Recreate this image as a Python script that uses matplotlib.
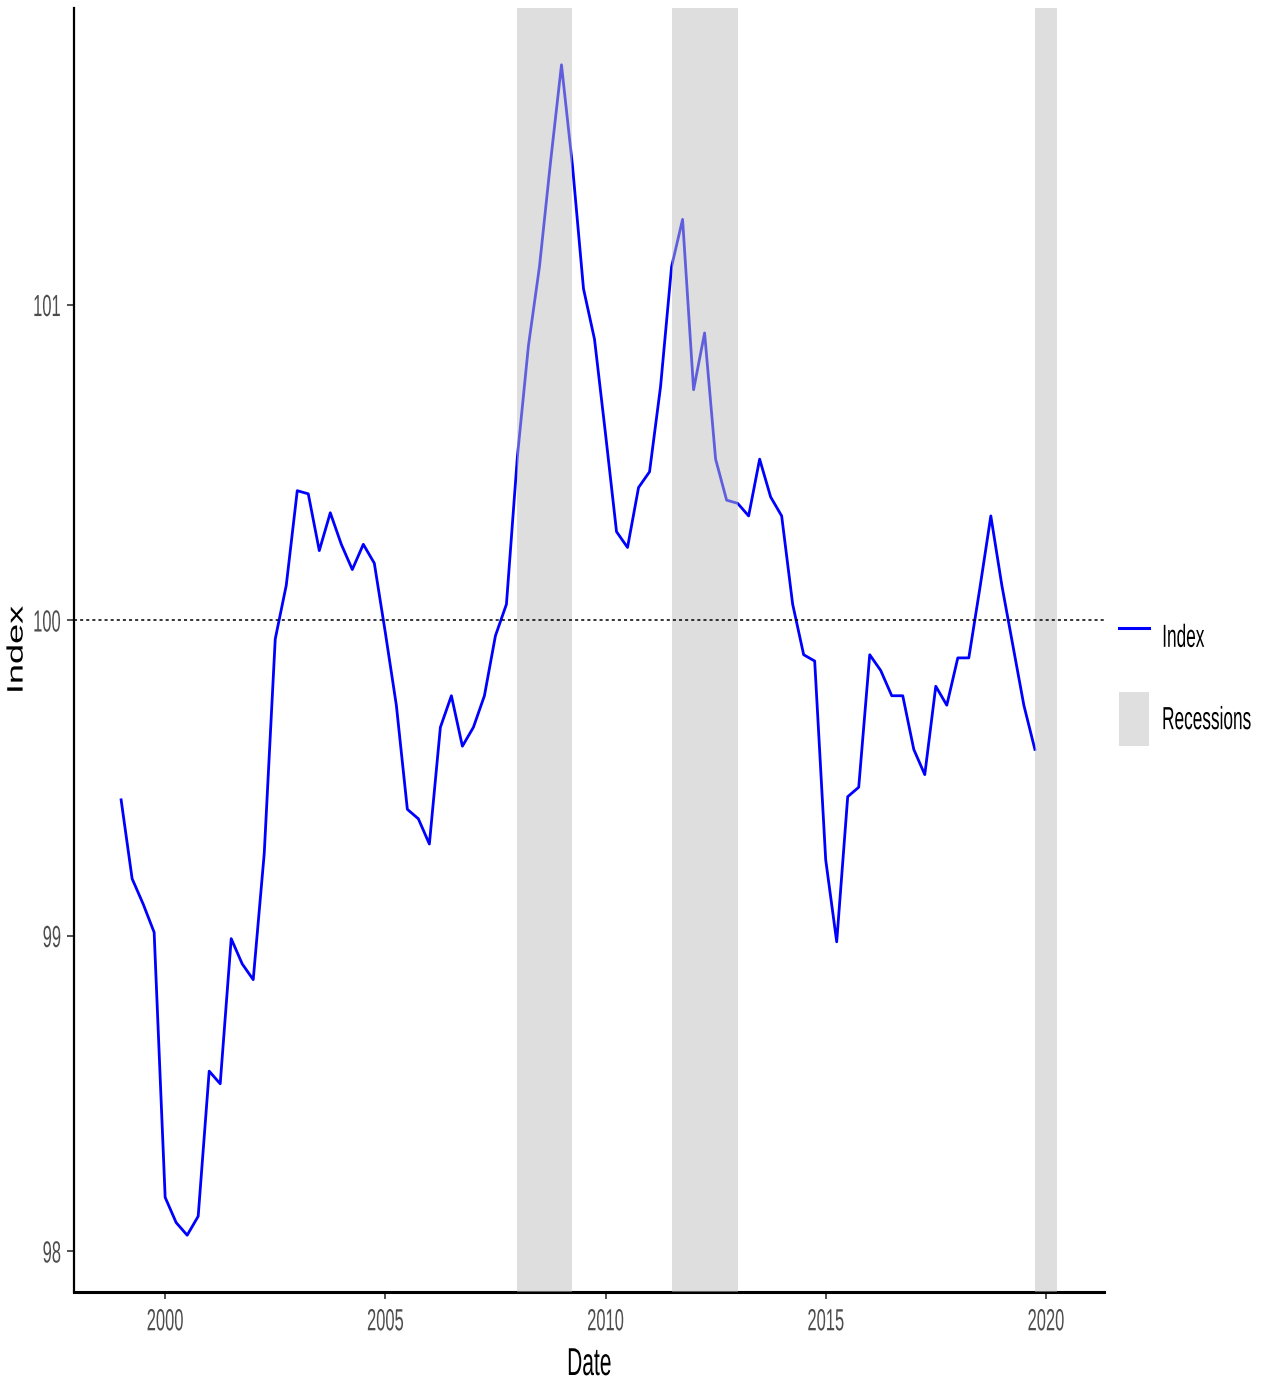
import matplotlib
matplotlib.use("Agg")
import matplotlib.pyplot as plt
from matplotlib.lines import Line2D
from matplotlib.patches import Patch
from matplotlib.patheffects import AbstractPathEffect
from matplotlib.transforms import Affine2D, Bbox

# quarterly index, 1999 Q1 .. 2019 Q4
start_year = 1999
index_vals = [
    99.43, 99.18, 99.10, 99.01,
    98.17, 98.09, 98.05, 98.11,
    98.57, 98.53, 98.99, 98.91,
    98.86, 99.26, 99.94, 100.11,
    100.41, 100.40, 100.22, 100.34,
    100.24, 100.16, 100.24, 100.18,
    99.96, 99.73, 99.40, 99.37,
    99.29, 99.66, 99.76, 99.60,
    99.66, 99.76, 99.95, 100.05,
    100.52, 100.87, 101.12, 101.45,
    101.76, 101.44, 101.05, 100.89,
    100.59, 100.28, 100.23, 100.42,
    100.47, 100.74, 101.12, 101.27,
    100.73, 100.91, 100.51, 100.38,
    100.37, 100.33, 100.51, 100.39,
    100.33, 100.05, 99.89, 99.87,
    99.24, 98.98, 99.44, 99.47,
    99.89, 99.84, 99.76, 99.76,
    99.59, 99.51, 99.79, 99.73,
    99.88, 99.88, 100.10, 100.33,
    100.11, 99.92, 99.73, 99.59,
]
dates = [start_year + i / 4 for i in range(len(index_vals))]

rec_start = [2008.0, 2011.5, 2019.75]
rec_end = [2009.25, 2013.0, 2020.25]

x_ticks = [2000, 2005, 2010, 2015, 2020]
y_ticks = [98, 99, 100, 101]

FONT = ["Liberation Sans", "DejaVu Sans"]
SQ = 0.54          # the reference text is squeezed sideways
tick_grey = "#4d4d4d"


class Squash(AbstractPathEffect):
    """scale a text's glyphs along / across the baseline"""
    def __init__(self, sx=1.0, sy=1.0, anchor="center"):
        super().__init__()
        self.sx, self.sy, self.anchor = sx, sy, anchor

    def draw_path(self, renderer, gc, tpath, affine, rgbFace=None):
        ext = tpath.get_extents()
        px = {"left": ext.x0, "center": (ext.x0 + ext.x1) / 2, "right": ext.x1}[self.anchor]
        py = (ext.y0 + ext.y1) / 2
        sq = Affine2D().translate(-px, -py).scale(self.sx, self.sy).translate(px, py)
        renderer.draw_path(gc, tpath, sq + affine, rgbFace)


def squeeze(t, anchor="center", across=False, f=SQ):
    if across:
        t.set_path_effects([Squash(sy=f)])
    else:
        t.set_path_effects([Squash(sx=f, anchor=anchor)])
    orig = t.get_window_extent

    def extent(renderer=None, dpi=None):
        bb = orig(renderer, dpi)
        x0, x1 = bb.x0, bb.x1
        ref = {"left": x0, "center": (x0 + x1) / 2, "right": x1}[anchor]
        return Bbox([[ref + (x0 - ref) * f, bb.y0], [ref + (x1 - ref) * f, bb.y1]])
    t.get_window_extent = extent


fig = plt.figure(figsize=(12.63, 13.82), dpi=100)
ax = fig.add_axes([74 / 1263, 1 - 1292 / 1382, (1104 - 74) / 1263, (1292 - 8) / 1382])

ax.plot(dates, index_vals, color="blue", lw=2.0, zorder=2)
for s, e in zip(rec_start, rec_end):
    ax.axvspan(s, e, color="#bebebe", alpha=0.5, lw=0, zorder=3)
ax.axhline(100, color="black", lw=1.1, ls=(0, (2, 2)), zorder=4)

ax.set_xlim(1997.93, 2021.32)
ax.set_ylim(97.87, 101.94)
ax.set_xticks(x_ticks)
ax.set_yticks(y_ticks)
ax.set_xticklabels([str(t) for t in x_ticks], family=FONT, fontsize=22, color=tick_grey)
ax.set_yticklabels([str(t) for t in y_ticks], family=FONT, fontsize=22, color=tick_grey)
ax.tick_params(axis="x", length=5, width=1.2, color="#333333", pad=6)
ax.tick_params(axis="y", length=5, width=1.2, color="#333333", pad=4)
for t in ax.get_xticklabels():
    squeeze(t, "center")
for t in ax.get_yticklabels():
    squeeze(t, "right")

for side in ["top", "right"]:
    ax.spines[side].set_visible(False)
ax.spines["left"].set_linewidth(1.6)
ax.spines["bottom"].set_linewidth(2.2)

ax.set_xlabel("Date", family=FONT, fontsize=28, va="baseline")
ax.xaxis.set_label_coords(0.5, -(1375 - 1292) / 1284)
squeeze(ax.xaxis.label, "center")
ax.set_ylabel("Index", family=FONT, fontsize=26, va="center")
ax.yaxis.set_label_coords(-(74 - 18) / 1030, 0.5)
squeeze(ax.yaxis.label, "center", across=True, f=0.62)

handles = [
    Line2D([0], [0], color="blue", lw=2.2),
    Patch(facecolor="#dfdfdf", edgecolor="none"),
]
leg = fig.legend(handles, ["Index", "Recessions"], loc="center left",
                 bbox_to_anchor=(1119 / 1263, 1 - 678 / 1382), frameon=False,
                 prop={"family": FONT, "size": 23},
                 handlelength=0.94, handleheight=2.2, handletextpad=0.37,
                 labelspacing=0.9, borderaxespad=0, borderpad=0)
for t in leg.get_texts():
    squeeze(t, "left")

fig.savefig("out.png", dpi=100)
